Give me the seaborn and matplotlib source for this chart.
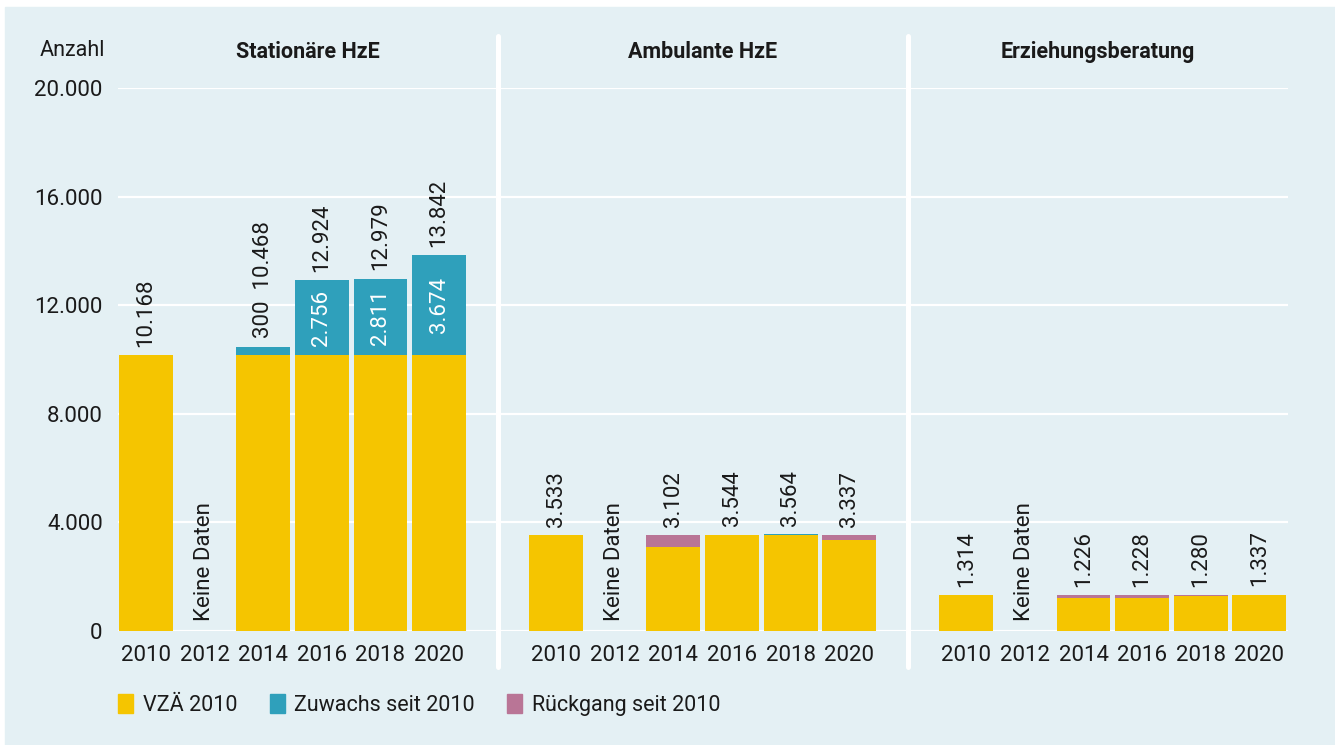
import numpy as np
import pandas as pd
import matplotlib
matplotlib.use('Agg')
import matplotlib.pyplot as plt
import matplotlib.patches as mpatches
import matplotlib.transforms as mtransforms
import seaborn as sns

# data
years = ['2010', '2012', '2014', '2016', '2018', '2020']
panels = ['Stationäre HzE', 'Ambulante HzE', 'Erziehungsberatung']
stationaer = [10168, None, 10468, 12924, 12979, 13842]
ambulant = [3533, None, 3102, 3544, 3564, 3337]
beratung = [1314, None, 1226, 1228, 1280, 1337]
y_ticks = [0, 4000, 8000, 12000, 16000, 20000]
y_ticklabels = ['0', '4.000', '8.000', '12.000', '16.000', '20.000']
legend_labels = ['VZÄ 2010', 'Zuwachs seit 2010', 'Rückgang seit 2010']

BG = '#e4f0f4'
YELLOW = '#f5c500'
TEAL = '#2fa0bb'
MAUVE = '#b97596'
INK = '#1a1a1a'


def fmt(v):
    return f'{int(v):,}'.replace(',', '.')


# build one long table, panels laid side by side with a gap of one slot
rows = []
for p, vals in enumerate([stationaer, ambulant, beratung]):
    base = vals[0]
    for i, (yr, v) in enumerate(zip(years, vals)):
        pos = p * 7 + i
        if v is None:
            rows.append(dict(panel=p, year=yr, pos=pos, value=np.nan, yellow=np.nan,
                             top=np.nan, kind='none'))
            continue
        kind = 'none'
        if v > base:
            kind = 'Zuwachs'
        elif v < base:
            kind = 'Rückgang'
        rows.append(dict(panel=p, year=yr, pos=pos, value=v, base=base,
                         yellow=min(v, base), top=max(v, base), kind=kind))
df = pd.DataFrame(rows)

sns.set_style('white')
plt.rcParams['font.family'] = ['Roboto', 'DejaVu Sans']

fig = plt.figure(figsize=(13.35, 7.45), dpi=100, facecolor='white')
fig.patches.append(mpatches.Rectangle((5 / 1335, 0), 1, (745 - 7) / 745,
                                      transform=fig.transFigure, color=BG, zorder=-10))

W, H = 1335, 745
ax = fig.add_axes([118 / W, (H - 631) / H, (1288 - 118) / W, (631 - 88) / H])
ax.set_facecolor(BG)

bars = df.dropna(subset=['value'])
tops = bars[bars['kind'] != 'none']

sns.barplot(data=tops, x='pos', y='top', hue='kind', native_scale=True, dodge=False,
            palette={'Zuwachs': TEAL, 'Rückgang': MAUVE}, width=0.92, saturation=1,
            errorbar=None, legend=False, linewidth=0, ax=ax)
sns.barplot(data=bars, x='pos', y='yellow', native_scale=True, color=YELLOW,
            width=0.92, saturation=1, errorbar=None, linewidth=0, ax=ax)

ax.set_xlim(-0.48, 19.49)
ax.set_ylim(0, 20000)
ax.set_yticks(y_ticks, y_ticklabels)
ax.set_xticks(df['pos'], df['year'])
ax.tick_params(axis='both', length=0, labelsize=16, colors=INK)
ax.tick_params(axis='y', pad=11)
ax.tick_params(axis='x', pad=10)
ax.set_xlabel('')
ax.set_ylabel('')
for s in ax.spines.values():
    s.set_visible(False)
ax.set_axisbelow(True)
ax.yaxis.grid(True, color='white', linewidth=1.6)
ax.xaxis.grid(False)

# panel separators
for x in [6, 13]:
    ax.axvline(x, ymin=-0.066, ymax=1.096, color='white', linewidth=3.6, clip_on=False, zorder=0)

# panel titles
trans = mtransforms.blended_transform_factory(ax.transData, ax.transAxes)
for cx, name in zip([2.76, 9.5, 16.25], panels):
    ax.text(cx, 1.066, name, transform=trans, ha='center', va='center',
            fontsize=15.5, fontweight='bold', color=INK)
fig.text(105 / W, 1 - 51 / H, 'Anzahl', ha='right', va='center', fontsize=15.5, color=INK)

# value labels
for _, r in df.iterrows():
    if np.isnan(r['value']):
        ax.annotate('Keine Daten', (r['pos'], 0), xytext=(0, 7), textcoords='offset points',
                    rotation=90, ha='center', va='bottom', fontsize=16, color=INK)
        continue
    diff = r['value'] - r['base']
    label = fmt(r['value'])
    if r['panel'] == 0 and 0 < diff < 1000:
        label = f'{fmt(diff)}  {label}'
    ax.annotate(label, (r['pos'], r['top']), xytext=(0, 6), textcoords='offset points',
                rotation=90, ha='center', va='bottom', fontsize=16, color=INK)
    if r['panel'] == 0 and diff >= 1000:
        ax.text(r['pos'], r['base'] + diff / 2, fmt(diff), rotation=90, ha='center',
                va='center', fontsize=16, color='white')

# legend
handles = [mpatches.Patch(color=c) for c in [YELLOW, TEAL, MAUVE]]
fig.legend(handles, legend_labels, loc='center left', bbox_to_anchor=(118 / W, 1 - 705 / H),
           ncol=3, frameon=False, fontsize=15.5, handlelength=0.7, handleheight=1.0,
           handletextpad=0.45, columnspacing=1.5, borderpad=0, borderaxespad=0,
           labelcolor=INK)

fig.savefig('out.png', dpi=100, facecolor=fig.get_facecolor())
